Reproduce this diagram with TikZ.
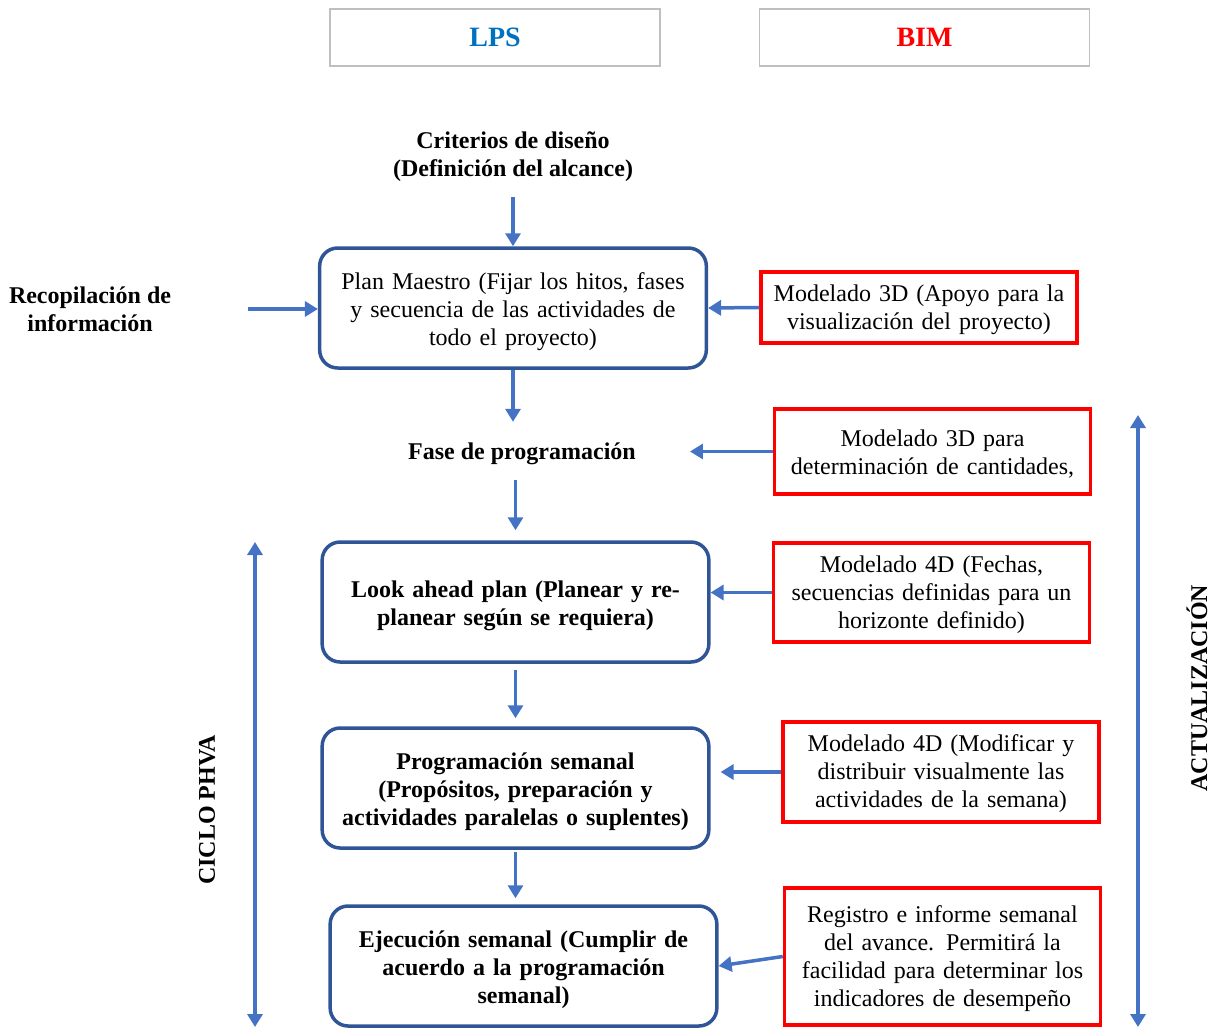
\documentclass[tikz,border=0pt]{standalone}
\usepackage{fontspec}
\setmainfont{Liberation Serif}
\usetikzlibrary{positioning, arrows.meta}

\definecolor{lpsblue}{HTML}{0070C0}
\definecolor{boxblue}{HTML}{2F5597}
\definecolor{arrowblue}{HTML}{4472C4}
\definecolor{headgray}{HTML}{BFBFBF}

\tikzset{
    >={Triangle[width=15pt,length=13pt]},
    head/.style={draw=headgray, line width=1.5pt, minimum width=330pt, minimum height=57pt,
        font=\fontsize{28}{32}\selectfont\bfseries},
    lps/.style={draw=boxblue, line width=3.5pt, rounded corners=18pt, minimum width=386pt,
        minimum height=120pt, text width=380pt, font=\fontsize{24}{28}\selectfont,
        execute at begin node={\rule{0pt}{25pt}}},
    lpsbold/.style={lps, font=\fontsize{24}{28}\selectfont\bfseries},
    bim/.style={draw=red, line width=3.5pt, minimum width=316pt, text width=308pt,
        font=\fontsize{24}{28}\selectfont, execute at begin node={\rule{0pt}{21pt}}},
    txt/.style={inner sep=0pt, font=\fontsize{24}{28}\selectfont\bfseries},
    flow/.style={color=arrowblue, line width=3.5pt, ->},
    updown/.style={draw=arrowblue, line width=3.5pt, <->}
}

\begin{document}
\begin{tikzpicture}[x=1pt, y=-1pt, align=center, auto, node distance=62.5pt]
        \useasboundingbox (0,0) rectangle (1220,1028);

        \node[head, text=lpsblue] (lps) at (495,37.5) {LPS};
        \node[head, text=red]     (bim) at (924.5,37.5) {BIM};

        \node[txt] (crit) at (513,157) {Criterios de diseño\\(Definición del alcance)};
        \node[lps] (pm)   at (513,308) {Plan Maestro (Fijar los hitos, fases\\y secuencia de las actividades de\\todo el proyecto)};
        \node[txt] (rec)  at (90,309)  {Recopilación de\\información};
        \node[txt] (fase) at (522,454) {Fase de programación};

        \node[lpsbold] (lap) [below = 170.5pt of pm, xshift=2.5pt] {Look ahead plan (Planear y re-\\planear según se requiera)};
        \node[lpsbold] (ps)  [below = of lap] {Programación semanal\\(Propósitos, preparación y\\actividades paralelas o suplentes)};
        \node[lpsbold] (es)  [below = 54.5pt of ps, xshift=8pt] {Ejecución semanal (Cumplir de\\acuerdo a la programación\\semanal)};

        \node[bim, minimum height=71pt]  (mod1) at (919,307.5)   {Modelado 3D (Apoyo para la\\visualización del proyecto)};
        \node[bim, minimum height=85pt]  (mod2) at (932.5,451.5) {Modelado 3D para\\determinación de cantidades,};
        \node[bim, minimum height=99pt]  (mod3) at (931.5,592.5) {Modelado 4D (Fechas,\\secuencias definidas para un\\horizonte definido)};
        \node[bim, minimum height=100pt] (mod4) at (941,772)     {Modelado 4D (Modificar y\\distribuir visualmente las\\actividades de la semana)};
        \node[bim, minimum height=137pt] (reg)  at (942.5,956.5) {Registro e informe semanal\\del avance. Permitirá la\\facilidad para determinar los\\indicadores de desempeño};

        \coordinate (recout)  at ([xshift=77pt]rec.east);
        \coordinate (fasein)  at ([xshift=54pt]fase.east);
        \coordinate (psin)    at ([xshift=10pt]ps.east);
        \coordinate (phvatop) at (255,542);
        \coordinate (phvabot) at (255,1027);
        \coordinate (acttop)  at (1138,415);
        \coordinate (actbot)  at (1138,1027);

        \node[txt, rotate=90] (phva) at (207,810)  {CICLO PHVA};
        \node[txt, rotate=90] (act)  at (1197,688) {ACTUALIZACIÓN};

        \path[flow]
            (crit) edge[shorten <=15pt] (pm)
            (recout) edge (recout -| pm.west)
            (mod1.west) edge (pm.east)

            (pm.south) edge[shorten >=21pt] (pm.south |- fase.north)
            (mod2.west) edge (fasein |- mod2.west)

            (fase.south -| lap.north) edge[shorten <=15pt, shorten >=10pt] (lap.north)
            (mod3.west) edge (mod3.west -| lap.east)

            (lap) edge[shorten <=6pt, shorten >=8pt] (ps)
            (mod4.west) edge (psin |- mod4.west)

            (ps.south) edge[shorten <=2pt, shorten >=6pt] (ps.south |- es.north)
            (reg.west) edge (es.east)
            ;

        \draw[updown] (phvatop) -- (phvabot);
        \draw[updown] (acttop) -- (actbot);
    \end{tikzpicture}
\end{document}
